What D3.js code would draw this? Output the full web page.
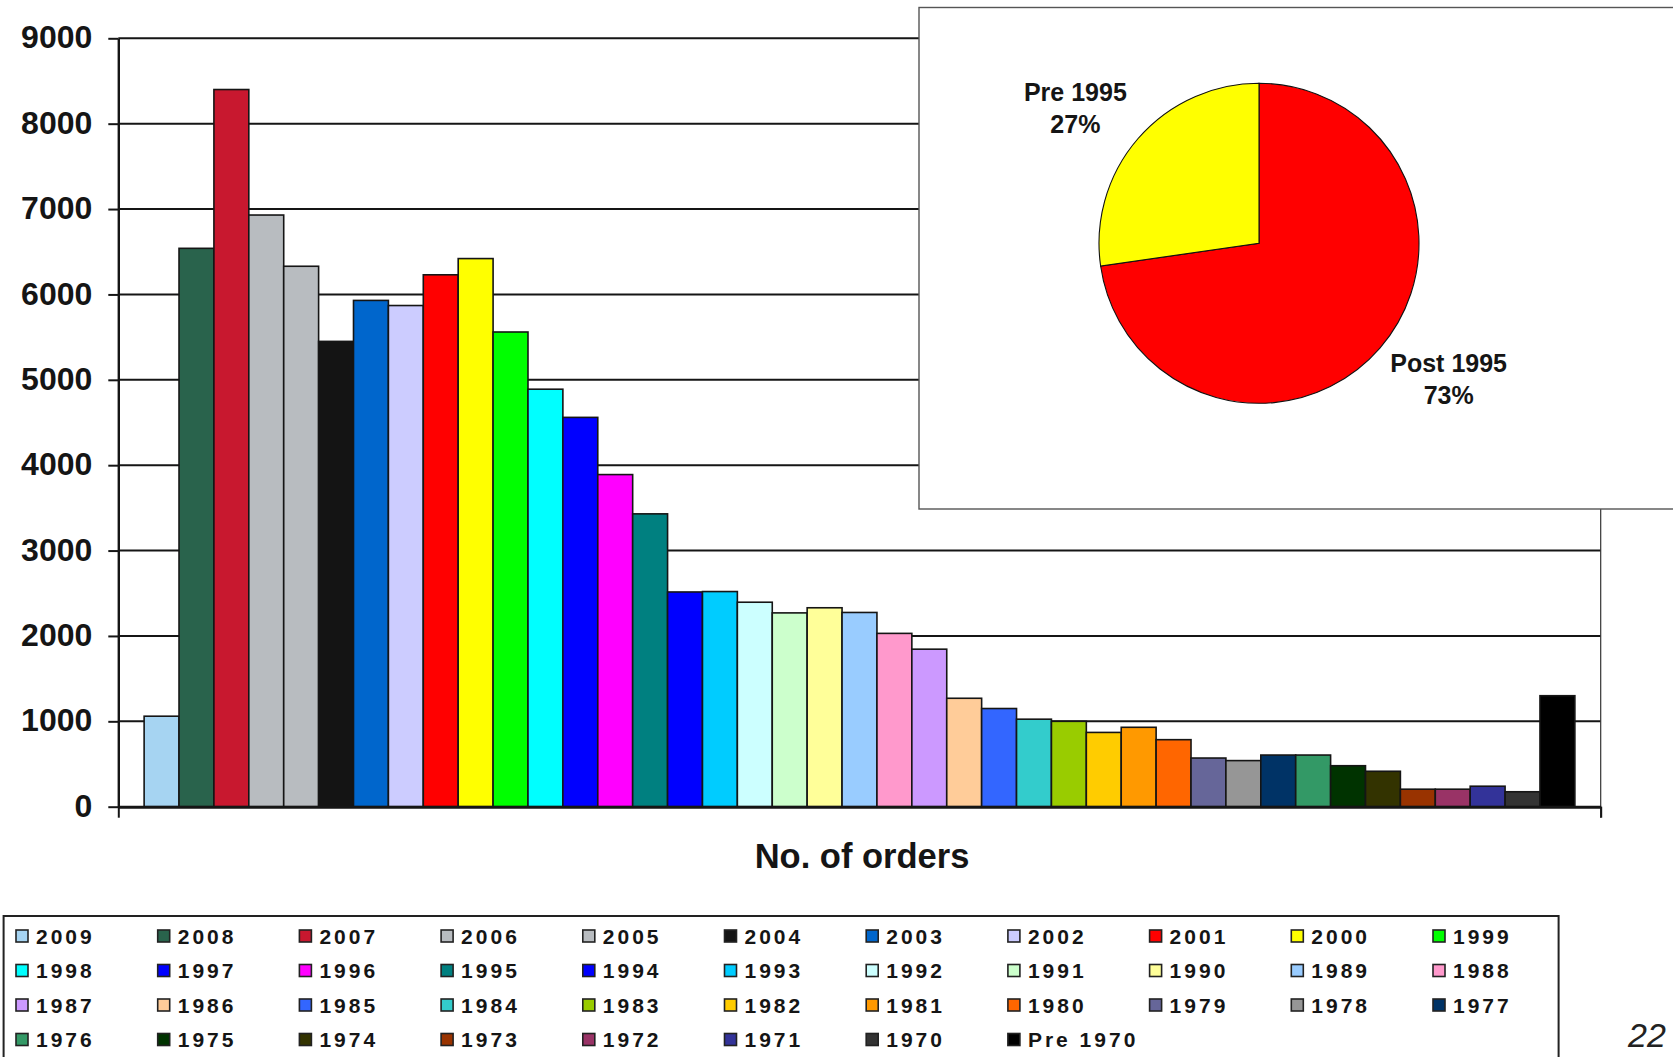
<!DOCTYPE html>
<meta charset="utf-8">
<style>
    body { margin: 0; background: #ffffff; }
    svg { display: block; font-family: "Liberation Sans", Arial, sans-serif; }
</style>

<script src="https://d3js.org/d3.v7.min.js"></script>

<svg id="chart" width="1673" height="1057"></svg>

<script>

// Data

var years = ["2009", "2008", "2007", "2006", "2005", "2004", "2003", "2002", "2001", "2000",
             "1999", "1998", "1997", "1996", "1995", "1994", "1993", "1992", "1991", "1990",
             "1989", "1988", "1987", "1986", "1985", "1984", "1983", "1982", "1981", "1980",
             "1979", "1978", "1977", "1976", "1975", "1974", "1973", "1972", "1971", "1970",
             "Pre 1970"];

var orders = [1060, 6540, 8400, 6930, 6330, 5450, 5930, 5870, 6230, 6420,
              5560, 4890, 4560, 3890, 3430, 2515, 2520, 2395, 2270, 2330,
              2275, 2030, 1845, 1270, 1150, 1025, 1000, 870, 930, 785,
              570, 540, 605, 605, 480, 415, 205, 205, 240, 175,
              1300];

var barColors = ["#a6d4f2", "#29634c", "#c8182f", "#b8bcc0", "#b8bcc0", "#141414", "#0066cc", "#ccccff", "#ff0000", "#ffff00",
                 "#00ff00", "#00ffff", "#0000ff", "#ff00ff", "#008080", "#0000ff", "#00ccff", "#ccffff", "#ccffcc", "#ffff99",
                 "#99ccff", "#ff99cc", "#cc99ff", "#ffcc99", "#3366ff", "#33cccc", "#99cc00", "#ffcc00", "#ff9900", "#ff6600",
                 "#666699", "#969696", "#003366", "#339966", "#003300", "#333300", "#993300", "#993366", "#333399", "#333333",
                 "#000000"];

var yTicks = [0, 1000, 2000, 3000, 4000, 5000, 6000, 7000, 8000, 9000];

var pieNames  = ["Post 1995", "Pre 1995"];
var pieColors = ["#ff0000", "#ffff00"];
var splitYear = 1995;

var axisTitle  = "No. of orders";
var pageNumber = "22";


// Setup

var svg = d3.select('svg#chart');

var plot = { left: 118.3, right: 1600.7, top: 38.3, bottom: 806.7 };

var x = d3.scaleBand()
    .domain(years)
    .range([plot.left, plot.right])
    .paddingInner(0)
    .paddingOuter(0.74);

var y = d3.scaleLinear()
    .domain([0, 9000])
    .range([plot.bottom, plot.top]);

var data = years.map(function (yr, i) {
    return { year: yr, value: orders[i], color: barColors[i] };
});


// Gridlines

svg.append('g')
    .selectAll('line')
    .data(yTicks.slice(1))
    .join('line')
    .attr('x1', plot.left)
    .attr('x2', plot.right)
    .attr('y1', function (d) { return y(d); })
    .attr('y2', function (d) { return y(d); })
    .attr('stroke', '#151515')
    .attr('stroke-width', 2);

// right edge of the plot area
svg.append('line')
    .attr('x1', plot.right).attr('x2', plot.right)
    .attr('y1', plot.top).attr('y2', plot.bottom + 11)
    .attr('stroke', '#333')
    .attr('stroke-width', 1.2);


// Bars

svg.append('g')
    .selectAll('rect')
    .data(data)
    .join('rect')
    .attr('x', function (d) { return x(d.year); })
    .attr('y', function (d) { return y(d.value); })
    .attr('width', x.bandwidth())
    .attr('height', function (d) { return y(0) - y(d.value); })
    .attr('fill', function (d) { return d.color; })
    .attr('stroke', '#151515')
    .attr('stroke-width', 1.6);


// Axes

var yAxis = svg.append('g')
    .attr('transform', 'translate(' + plot.left + ',0)')
    .call(d3.axisLeft(y).tickValues(yTicks).tickFormat(d3.format('d'))
        .tickSize(10).tickSizeOuter(0).tickPadding(16));

yAxis.select('.domain')
    .attr('stroke', '#151515')
    .attr('stroke-width', 2.4);
yAxis.selectAll('.tick line')
    .attr('stroke', '#151515')
    .attr('stroke-width', 2);
yAxis.selectAll('.tick text')
    .attr('fill', '#151515')
    .attr('font-size', '32px')
    .attr('font-weight', 'bold')
    .attr('font-family', '"Liberation Sans", Arial, sans-serif')
    .attr('dy', '0.3em');

var xEdges = d3.scaleLinear().domain([0, 1]).range([plot.left, plot.right]);

var xAxis = svg.append('g')
    .attr('transform', 'translate(0,' + plot.bottom + ')')
    .call(d3.axisBottom(xEdges).tickValues([0, 1]).tickFormat('').tickSize(11).tickSizeOuter(0));

xAxis.select('.domain')
    .attr('stroke', '#151515')
    .attr('stroke-width', 3);
xAxis.selectAll('.tick line')
    .attr('stroke', '#151515')
    .attr('stroke-width', 2);

svg.append('text')
    .attr('x', 862)
    .attr('y', 868)
    .attr('text-anchor', 'middle')
    .attr('font-size', '34.5px')
    .attr('font-weight', 'bold')
    .attr('fill', '#151515')
    .text(axisTitle);


// Pie inset

svg.append('rect')
    .attr('x', 919)
    .attr('y', 7.5)
    .attr('width', 800)
    .attr('height', 501.5)
    .attr('fill', '#ffffff')
    .attr('stroke', '#555')
    .attr('stroke-width', 1.4);

var post = d3.sum(data.filter(function (d) { return +d.year >= splitYear; }), function (d) { return d.value; });
var pre  = d3.sum(data.filter(function (d) { return !(+d.year >= splitYear); }), function (d) { return d.value; });
var pieValues = [post, pre];
var pieTotal = post + pre;

var pieCx = 1259, pieCy = 243.3, pieR = 160;

var pie = d3.pie().sort(null).value(function (d) { return d; });
var arc = d3.arc().innerRadius(0).outerRadius(pieR);

var slices = pie(pieValues);

var pieG = svg.append('g')
    .attr('transform', 'translate(' + pieCx + ',' + pieCy + ')');

pieG.selectAll('path')
    .data(slices)
    .join('path')
    .attr('d', arc)
    .attr('fill', function (d, i) { return pieColors[i]; })
    .attr('stroke', '#111')
    .attr('stroke-width', 1.1);

var labels = pieG.selectAll('text')
    .data(slices)
    .join('text')
    .attr('text-anchor', 'middle')
    .attr('font-size', '25px')
    .attr('font-weight', 'bold')
    .attr('fill', '#151515')
    .attr('transform', function (d) {
        var mid = (d.startAngle + d.endAngle) / 2;
        return 'translate(' + (Math.sin(mid) * 247 + 3) + ',' + (-Math.cos(mid) * 207 - 3) + ')';
    });

labels.append('tspan')
    .attr('x', 0)
    .attr('dy', '-0.15em')
    .text(function (d, i) { return pieNames[i]; });

labels.append('tspan')
    .attr('x', 0)
    .attr('dy', '1.27em')
    .text(function (d) { return Math.round(d.value / pieTotal * 100) + '%'; });


// Legend

var legendCols = 11;

svg.append('rect')
    .attr('x', 3.6)
    .attr('y', 916)
    .attr('width', 1555)
    .attr('height', 200)
    .attr('fill', 'none')
    .attr('stroke', '#222')
    .attr('stroke-width', 2);

var items = svg.append('g')
    .selectAll('g')
    .data(data)
    .join('g')
    .attr('transform', function (d, i) {
        var col = i % legendCols, row = Math.floor(i / legendCols);
        return 'translate(' + (16 + col * 141.7) + ',' + (930 + row * 34.5) + ')';
    });

items.append('rect')
    .attr('width', 12)
    .attr('height', 12)
    .attr('fill', function (d) { return d.color; })
    .attr('stroke', '#222')
    .attr('stroke-width', 1.6);

items.append('text')
    .attr('x', 20)
    .attr('y', 13.5)
    .attr('font-size', '21px')
    .attr('font-weight', 'bold')
    .attr('letter-spacing', '3px')
    .attr('fill', '#151515')
    .text(function (d) { return d.year; });


// Page number

svg.append('text')
    .attr('x', 1628)
    .attr('y', 1047)
    .attr('font-size', '34px')
    .attr('font-style', 'italic')
    .attr('fill', '#222')
    .text(pageNumber);

</script>
